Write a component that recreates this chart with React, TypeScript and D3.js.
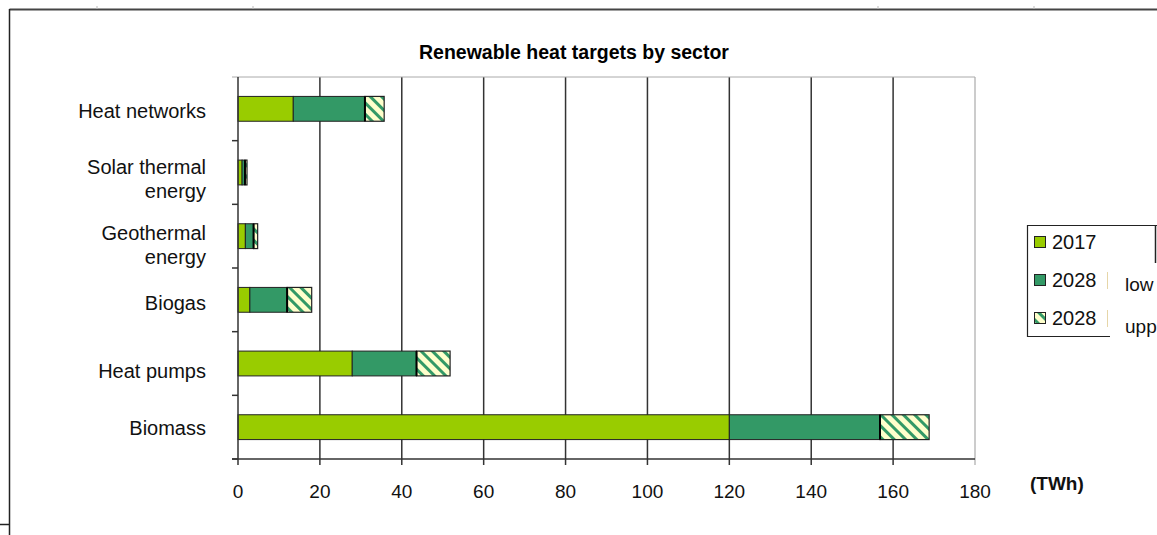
import React from 'react';
import * as d3 from 'd3';

// sectors top to bottom
const sectors = ['Heat networks', 'Solar thermal energy', 'Geothermal energy', 'Biogas', 'Heat pumps', 'Biomass'];
const sectorLines = [['Heat networks'], ['Solar thermal', 'energy'], ['Geothermal', 'energy'], ['Biogas'], ['Heat pumps'], ['Biomass']];
// TWh, stacked segments
const values2017 = [13.5, 1.0, 1.8, 2.9, 27.9, 120];
const values2028Lower = [17.5, 0.7, 2.0, 9.1, 15.7, 36.8];
const values2028Upper = [4.7, 0.5, 1.0, 6.0, 8.2, 12.0];
const xTicks = [0, 20, 40, 60, 80, 100, 120, 140, 160, 180];
const legendLabels = ['2017', '2028', '2028'];
// the source image cuts these words at its right edge
const legendNotes = ['', 'low', 'upp'];

const W = 1157;
const H = 535;
const plot = { left: 238, right: 975, top: 77, bottom: 459 };
const FONT = '"Liberation Sans", Arial, sans-serif';

const LIGHT = '#99cc00';
const DARK = '#339966';
const PALE = '#ffffcc';

// small vertical nudges so the category labels sit like the original
const labelNudge = [2, 6, 9, 3, 7, 1];

const App = () => {
  const x = d3.scaleLinear().domain([0, 180]).range([plot.left, plot.right]);
  const y = d3.scaleBand().domain(sectors).range([plot.top, plot.bottom]).paddingInner(0.61).paddingOuter(0.305);
  const band = d3.scaleBand().domain(sectors).range([plot.top, plot.bottom]);

  const stacks = sectors.map((s, i) => {
    const a = values2017[i];
    const b = a + values2028Lower[i];
    const c = b + values2028Upper[i];
    return [
      { s, x0: 0, x1: a, fill: LIGHT },
      { s, x0: a, x1: b, fill: DARK },
      { s, x0: b, x1: c, fill: 'url(#hatch)' },
    ];
  });

  return (
    <svg width={W} height={H} style={{ position: 'absolute', left: 0, top: 0, background: '#fff' }} fontFamily={FONT}>
      <defs>
        <pattern id="hatch" patternUnits="userSpaceOnUse" width="8" height="8" patternTransform="rotate(-45)">
          <rect width="8" height="8" fill={PALE} />
          <rect x="0" y="0" width="3" height="8" fill={DARK} />
        </pattern>
      </defs>

      {/* outer frame */}
      <line x1={9.5} y1={9.5} x2={W} y2={9.5} stroke="#444" strokeWidth={2} />
      <line x1={9.5} y1={9} x2={9.5} y2={H} stroke="#222" strokeWidth={1.5} />
      <line x1={0} y1={524.5} x2={9} y2={524.5} stroke="#222" strokeWidth={1.5} />
      {[97, 253, 878, 1034].map(t => (
        <line key={t} x1={t} y1={6} x2={t} y2={9} stroke="#bbb" strokeWidth={1} />
      ))}

      <text x={574} y={59} textAnchor="middle" fontSize={19.5} fontWeight="bold" fill="#000">
        Renewable heat targets by sector
      </text>

      {/* grid */}
      {xTicks.slice(1).map(t => (
        <line key={t} x1={x(t)} y1={plot.top} x2={x(t)} y2={plot.bottom + 6}
          stroke={t === 180 ? '#999' : '#333'} strokeWidth={t === 180 ? 1 : 1.5} />
      ))}
      <line x1={plot.left - 6} y1={plot.top} x2={plot.right} y2={plot.top} stroke="#aaa" strokeWidth={1} />

      {/* bars */}
      {stacks.map(segs => segs.map((d, j) => (
        <rect key={d.s + j} x={x(d.x0)} y={y(d.s)} width={x(d.x1) - x(d.x0)} height={y.bandwidth()}
          fill={d.fill} stroke="#222" strokeWidth={j === 2 ? 1.2 : 1} />
      )))}
      {stacks.map(segs => (
        <line key={segs[0].s + 'sep'} x1={x(segs[2].x0)} x2={x(segs[2].x0)} y1={y(segs[0].s)} y2={(y(segs[0].s) as number) + y.bandwidth()}
          stroke="#000" strokeWidth={2} />
      ))}

      {/* axes */}
      <line x1={plot.left} y1={plot.top} x2={plot.left} y2={plot.bottom + 6} stroke="#333" strokeWidth={1.5} />
      <line x1={plot.left - 6} y1={plot.bottom} x2={plot.right} y2={plot.bottom} stroke="#333" strokeWidth={1.5} />
      {sectors.map(s => (
        <line key={s + 't'} x1={plot.left - 6} x2={plot.left} y1={(band(s) as number) + band.bandwidth()} y2={(band(s) as number) + band.bandwidth()}
          stroke="#333" strokeWidth={1.5} />
      ))}
      {xTicks.map(t => (
        <text key={t + 'l'} x={x(t)} y={498} textAnchor="middle" fontSize={19} fill="#111">{t}</text>
      ))}
      <text x={1030} y={490} fontSize={19} fontWeight="bold" fill="#111">(TWh)</text>

      {sectors.map((s, i) => {
        const lines = sectorLines[i];
        const cy = (y(s) as number) + y.bandwidth() / 2 + labelNudge[i];
        const start = cy - (lines.length - 1) * 12 + 7;
        return (
          <text key={s + 'y'} x={206} textAnchor="end" fontSize={20} fill="#111">
            {lines.map((l, k) => (
              <tspan key={k} x={206} y={start + k * 24}>{l}</tspan>
            ))}
          </text>
        );
      })}

      {/* legend */}
      <path d="M1157,225.5 H1027.5 V336.5 H1110" fill="#fff" stroke="#222" strokeWidth={1.2} />
      <line x1={1155.5} y1={225} x2={1155.5} y2={263} stroke="#222" strokeWidth={1.5} />
      {legendLabels.map((l, i) => {
        const ly = 249 + i * 38;
        return (
          <g key={i}>
            <rect x={1034.5} y={ly - 12.5} width={11} height={11}
              fill={i === 0 ? LIGHT : i === 1 ? DARK : 'url(#hatch)'} stroke="#222" strokeWidth={1} />
            <text x={1052} y={ly} fontSize={20} fill="#111">{l}</text>
            {i > 0 && <line x1={1107.5} x2={1107.5} y1={ly - 15} y2={ly + 2} stroke="#e6d6a8" strokeWidth={1} />}
            {legendNotes[i] && <text x={1125} y={ly + 4 + (i - 1) * 4} fontSize={19} fill="#111">{legendNotes[i]}</text>}
          </g>
        );
      })}
    </svg>
  );
};

export default App;
